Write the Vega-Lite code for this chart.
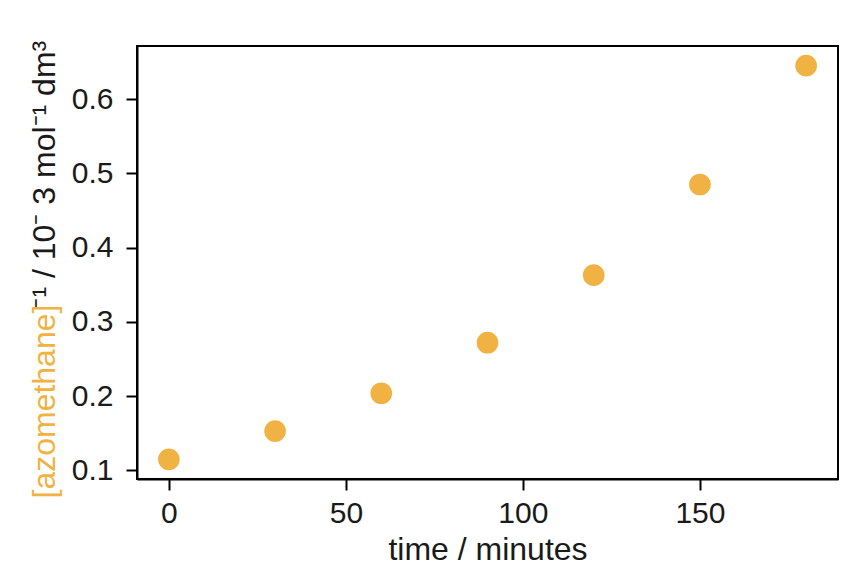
{
  "$schema": "https://vega.github.io/schema/vega-lite/v6.json",
  "width": 701,
  "height": 433,
  "autosize": "none",
  "padding": {"left": 137, "top": 46, "right": 26, "bottom": 97},
  "background": "white",
  "data": {
    "values": [
      {"time": 0, "inv": 0.115},
      {"time": 30, "inv": 0.153},
      {"time": 60, "inv": 0.204},
      {"time": 90, "inv": 0.272},
      {"time": 120, "inv": 0.363},
      {"time": 150, "inv": 0.485},
      {"time": 180, "inv": 0.645}
    ]
  },
  "layer": [
    {
      "mark": {"type": "circle", "size": 470, "opacity": 1, "color": "#F0B243"},
      "encoding": {
        "x": {
          "field": "time",
          "type": "quantitative",
          "scale": {"domain": [-9, 189], "nice": false, "zero": false},
          "axis": {"values": [0, 50, 100, 150], "title": "time / minutes", "titlePadding": 6, "labelPadding": 8}
        },
        "y": {
          "field": "inv",
          "type": "quantitative",
          "scale": {"domain": [0.0885, 0.6715], "nice": false, "zero": false},
          "axis": {
            "orient": "left",
            "values": [0.1, 0.2, 0.3, 0.4, 0.5, 0.6],
            "format": ".1f",
            "labelPadding": 13,
            "title": "⁻¹ / 10⁻ 3 mol⁻¹  dm³",
            "titleX": -83,
            "titleY": 262,
            "titleAlign": "left",
            "titleBaseline": "alphabetic",
            "titleAngle": -90
          }
        }
      }
    },
    {
      "mark": {"type": "circle", "size": 470, "opacity": 0},
      "encoding": {
        "x": {"field": "time", "type": "quantitative"},
        "y": {
          "field": "inv",
          "type": "quantitative",
          "axis": {
            "orient": "right",
            "domain": false,
            "ticks": false,
            "labels": false,
            "grid": false,
            "title": "[azomethane]",
            "titleColor": "#F0B243",
            "titleX": -784,
            "titleY": 452,
            "titleAlign": "left",
            "titleBaseline": "alphabetic",
            "titleAngle": -90
          }
        }
      }
    }
  ],
  "resolve": {"axis": {"y": "independent"}},
  "config": {
    "font": "Liberation Sans",
    "view": {"stroke": "black", "strokeWidth": 2},
    "axis": {
      "grid": false,
      "domainColor": "black",
      "domainWidth": 2,
      "tickColor": "black",
      "tickWidth": 2,
      "tickSize": 11,
      "labelFont": "Liberation Sans",
      "labelFontSize": 30,
      "labelColor": "#1a1a1a",
      "titleFont": "Liberation Sans",
      "titleFontSize": 32,
      "titleFontWeight": "normal",
      "titleColor": "#1a1a1a"
    }
  }
}
